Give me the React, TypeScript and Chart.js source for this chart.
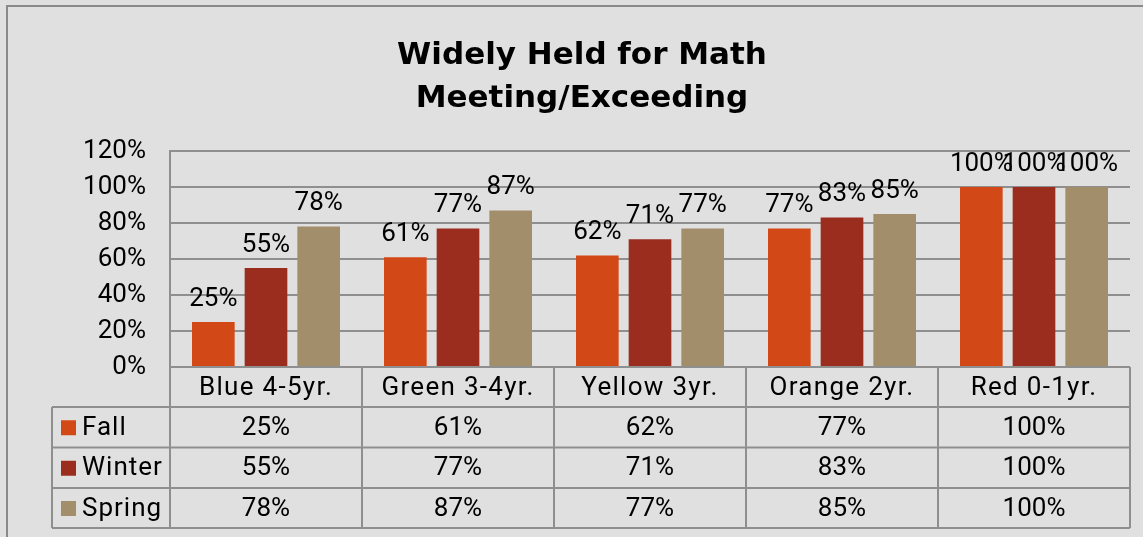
import React, { useEffect, useRef } from "react";
import { Chart, registerables } from "chart.js";

Chart.register(...registerables);

const titleLines = ["Widely Held for Math", "Meeting/Exceeding"];
const categories = ["Blue 4-5yr.", "Green 3-4yr.", "Yellow 3yr.", "Orange 2yr.", "Red 0-1yr."];
const seriesNames = ["Fall", "Winter", "Spring"];
const fallValues = [25, 61, 62, 77, 100];
const winterValues = [55, 77, 71, 83, 100];
const springValues = [78, 87, 77, 85, 100];
const seriesColors = ["#D34817", "#9B2D1F", "#A28E6A"];
const yMax = 120;
const yStep = 20;

const FONT = "Roboto, 'DejaVu Sans', sans-serif";
const TITLE_FONT = "'DejaVu Sans', sans-serif";
const LINE = "#8f8f8f";

const tablePlugin = {
  id: "tablePlugin",
  beforeDraw(chart: any) {
    const { ctx, width, height } = chart;
    ctx.save();
    ctx.fillStyle = "#e0e0e0";
    ctx.fillRect(0, 0, width, height);
    ctx.strokeStyle = "#8a8a8a";
    ctx.lineWidth = 2;
    ctx.beginPath();
    ctx.moveTo(7, height);
    ctx.lineTo(7, 6);
    ctx.lineTo(width, 6);
    ctx.stroke();
    // title
    ctx.fillStyle = "#000";
    ctx.font = `bold 31px ${TITLE_FONT}`;
    ctx.textAlign = "center";
    ctx.textBaseline = "alphabetic";
    ctx.fillText(titleLines[0], 582, 64);
    ctx.fillText(titleLines[1], 582, 107);
    ctx.restore();
  },
  afterDraw(chart: any) {
    const { ctx, chartArea } = chart;
    const x = chart.scales.x;
    const n = categories.length;
    const bounds: number[] = [chartArea.left];
    for (let i = 0; i < n - 1; i++) {
      bounds.push((x.getPixelForValue(i) + x.getPixelForValue(i + 1)) / 2);
    }
    bounds.push(chartArea.right);
    const top = chartArea.bottom;
    const rowTops = [top, top + 40, top + 80.5, top + 121, top + 161];
    const tableLeft = 52;
    ctx.save();
    // data labels above bars
    ctx.fillStyle = "#000";
    ctx.font = `26px ${FONT}`;
    ctx.textAlign = "center";
    ctx.textBaseline = "alphabetic";
    chart.data.datasets.forEach((ds: any, di: number) => {
      const meta = chart.getDatasetMeta(di);
      meta.data.forEach((el: any, i: number) => {
        ctx.fillText(ds.data[i] + "%", el.x, el.y - 16.5);
      });
    });
    // table lines
    ctx.strokeStyle = LINE;
    ctx.lineWidth = 2;
    ctx.beginPath();
    ctx.moveTo(chartArea.left, rowTops[0]);
    ctx.lineTo(chartArea.right, rowTops[0]);
    for (let r = 1; r < rowTops.length; r++) {
      ctx.moveTo(tableLeft, rowTops[r]);
      ctx.lineTo(chartArea.right, rowTops[r]);
    }
    ctx.moveTo(tableLeft, rowTops[1]);
    ctx.lineTo(tableLeft, rowTops[4]);
    bounds.forEach((b) => {
      ctx.moveTo(b, rowTops[0]);
      ctx.lineTo(b, rowTops[4]);
    });
    ctx.stroke();
    // header labels
    ctx.fillStyle = "#000";
    ctx.font = `26px ${FONT}`;
    ctx.textBaseline = "middle";
    ctx.textAlign = "center";
    ctx.letterSpacing = "1.3px";
    categories.forEach((c, i) => {
      ctx.fillText(c, (bounds[i] + bounds[i + 1]) / 2, (rowTops[0] + rowTops[1]) / 2 + 1);
    });
    // rows
    const allSeries = [fallValues, winterValues, springValues];
    allSeries.forEach((vals, r) => {
      const cy = (rowTops[r + 1] + rowTops[r + 2]) / 2 + 1;
      ctx.fillStyle = seriesColors[r];
      ctx.fillRect(61, cy - 8, 15, 15);
      ctx.fillStyle = "#000";
      ctx.textAlign = "left";
      ctx.letterSpacing = "1px";
      ctx.fillText(seriesNames[r], 82, cy);
      ctx.letterSpacing = "0px";
      ctx.textAlign = "center";
      vals.forEach((v, i) => {
        ctx.fillText(v + "%", (bounds[i] + bounds[i + 1]) / 2, cy);
      });
    });
    ctx.restore();
  },
};

export default function App() {
  const ref = useRef<HTMLCanvasElement | null>(null);
  useEffect(() => {
    if (!ref.current) return;
    const chart = new Chart(ref.current, {
      type: "bar",
      data: {
        labels: categories,
        datasets: [
          { label: seriesNames[0], data: fallValues, backgroundColor: seriesColors[0] },
          { label: seriesNames[1], data: winterValues, backgroundColor: seriesColors[1] },
          { label: seriesNames[2], data: springValues, backgroundColor: seriesColors[2] },
        ],
      },
      options: {
        animation: false,
        responsive: false,
        maintainAspectRatio: false,
        layout: { padding: { top: 151, left: 0, right: 13, bottom: 170 } },
        datasets: { bar: { categoryPercentage: 0.823, barPercentage: 0.81 } },
        plugins: { legend: { display: false }, title: { display: false }, tooltip: { enabled: false } },
        scales: {
          x: { display: false },
          y: {
            min: 0,
            max: yMax,
            ticks: {
              stepSize: yStep,
              padding: 24,
              color: "#000",
              font: { family: FONT, size: 26 },
              callback: (v: any) => v + "%",
            },
            grid: { color: LINE, lineWidth: 2, drawTicks: false },
            border: { display: true, color: LINE, width: 2 },
            afterFit: (s: any) => {
              s.width = 170;
            },
          },
        },
      },
      plugins: [tablePlugin],
    });
    return () => chart.destroy();
  }, []);
  return (
    <div style={{ position: "absolute", left: 0, top: 0, width: 1143, height: 537 }}>
      <canvas ref={ref} width={1143} height={537} style={{ display: "block" }} />
    </div>
  );
}
